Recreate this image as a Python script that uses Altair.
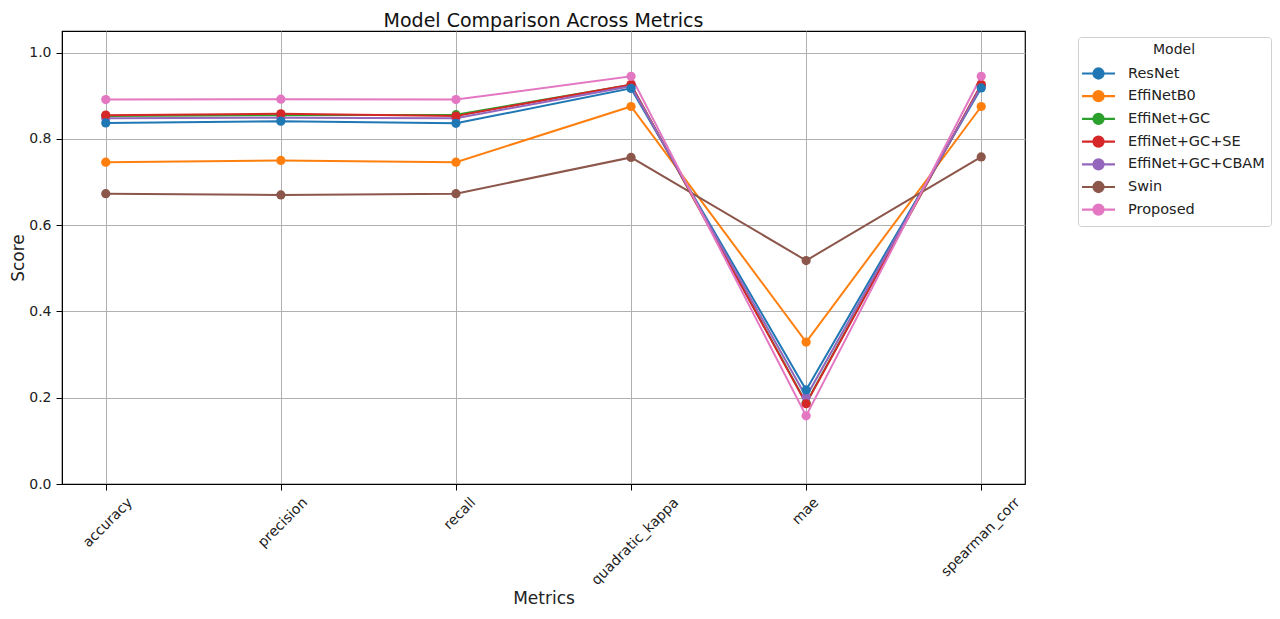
import altair as alt
import pandas as pd

metrics = ["accuracy", "precision", "recall", "quadratic_kappa", "mae", "spearman_corr"]
models = ["ResNet", "EffiNetB0", "EffiNet+GC", "EffiNet+GC+SE", "EffiNet+GC+CBAM", "Swin", "Proposed"]
colors = ["#1f77b4", "#ff7f0e", "#2ca02c", "#d62728", "#9467bd", "#8c564b", "#e377c2"]

resnet = [0.837, 0.841, 0.836, 0.917, 0.218, 0.918]
effinetb0 = [0.746, 0.750, 0.746, 0.875, 0.329, 0.875]
effinet_gc = [0.853, 0.855, 0.856, 0.925, 0.188, 0.925]
effinet_gc_se = [0.855, 0.858, 0.853, 0.926, 0.186, 0.926]
effinet_gc_cbam = [0.848, 0.849, 0.848, 0.922, 0.202, 0.922]
swin = [0.673, 0.670, 0.673, 0.757, 0.518, 0.758]
proposed = [0.891, 0.892, 0.891, 0.945, 0.158, 0.945]

series = [resnet, effinetb0, effinet_gc, effinet_gc_se, effinet_gc_cbam, swin, proposed]

rows = []
for m, vals in zip(models, series):
    for k, v in zip(metrics, vals):
        rows.append({"Model": m, "Metrics": k, "Score": v})
df = pd.DataFrame(rows)

label_shift = {"accuracy": 24, "precision": 24, "recall": 17,
               "quadratic_kappa": 45, "mae": 10, "spearman_corr": 36}
offset_cond = {
    "condition": [{"test": f"datum.value == '{k}'", "value": v} for k, v in label_shift.items()],
    "value": 0,
}

FONT = "DejaVu Sans"
TXT = "#222222"
sym = ("M-1.83,0L1.83,0M0.56,0A0.56,0.56,0,1,1,-0.56,0"
       "A0.56,0.56,0,1,1,0.56,0Z")

x_enc = alt.X(
    "Metrics:N",
    sort=metrics,
    scale=alt.Scale(type="point", padding=0.25),
    axis=alt.Axis(
        title="Metrics",
        labelAngle=-45,
        labelAlign="right",
        labelBaseline="middle",
        labelOffset=offset_cond,
        labelPadding=10,
        labelFontSize=14,
        labelColor=TXT,
        titleFontSize=17,
        titleFontWeight="normal",
        titleColor=TXT,
        titlePadding=3,
        grid=True,
        gridColor="#b0b0b0",
        gridWidth=1,
        domainColor="#000000",
        tickColor="#000000",
        tickSize=6,
    ),
)
y_enc = alt.Y(
    "Score:Q",
    scale=alt.Scale(domain=[0, 1.05], nice=False, zero=True),
    axis=alt.Axis(
        title="Score",
        values=[0.0, 0.2, 0.4, 0.6, 0.8, 1.0],
        format=".1f",
        labelFontSize=14,
        labelColor=TXT,
        labelPadding=5,
        titleFontSize=17,
        titleFontWeight="normal",
        titleColor=TXT,
        titlePadding=1,
        grid=True,
        gridColor="#b0b0b0",
        gridWidth=1,
        domainColor="#000000",
        tickColor="#000000",
        tickSize=6,
    ),
)
color_enc = alt.Color(
    "Model:N",
    sort=models,
    scale=alt.Scale(domain=models, range=colors),
    legend=alt.Legend(
        title="Model",
        orient="none",
        legendX=1016,
        legendY=6,
        titleAnchor="middle",
        titleFontSize=14,
        titleFontWeight="normal",
        titleColor=TXT,
        titlePadding=6,
        labelFontSize=14.5,
        labelColor=TXT,
        labelOffset=19,
        symbolType=sym,
        symbolSize=324,
        symbolStrokeWidth=2.2,
        symbolOffset=4,
        rowPadding=2.7,
        strokeColor="#d0d0d0",
        fillColor="#ffffff",
        cornerRadius=3,
        padding=6,
    ),
)

base = alt.Chart(df).encode(x=x_enc, y=y_enc, color=color_enc, order=alt.Order("Model:N"))

lines = base.mark_line(strokeWidth=2, point=alt.OverlayMarkDef(filled=True, size=85, opacity=1))

chart = lines.properties(
    width=963,
    height=453,
    autosize=alt.AutoSizeParams(type="none"),
    padding={"left": 54, "top": 23, "right": 247, "bottom": 127},
    title=alt.TitleParams("Model Comparison Across Metrics", fontSize=19, font=FONT,
                          fontWeight="normal", color="#111111", anchor="middle",
                          offset=0),
).configure(font=FONT).configure_view(stroke="#000000", strokeWidth=1.2)

chart.save("out.html", embed_options={"renderer": "svg", "actions": False})
